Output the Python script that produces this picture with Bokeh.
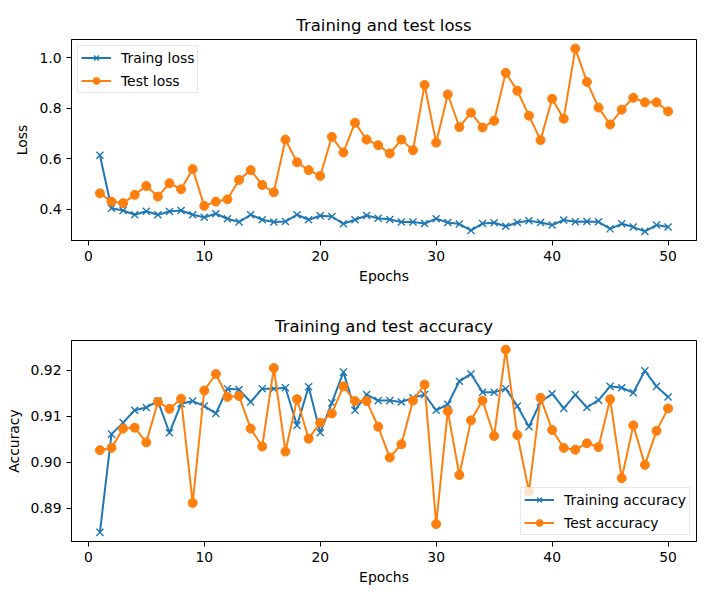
from bokeh.plotting import figure
from bokeh.layouts import column
from bokeh.models import Range1d, FixedTicker, PrintfTickFormatter
from bokeh.embed import file_html
from bokeh.resources import INLINE

epochs = list(range(1, 51))

train_loss = [0.614, 0.404, 0.395, 0.378, 0.392, 0.378, 0.391, 0.395, 0.378, 0.368,
              0.382, 0.362, 0.349, 0.378, 0.358, 0.349, 0.351, 0.378, 0.358, 0.374,
              0.371, 0.342, 0.358, 0.375, 0.364, 0.359, 0.349, 0.349, 0.343, 0.362,
              0.347, 0.341, 0.316, 0.343, 0.346, 0.332, 0.347, 0.354, 0.347, 0.337,
              0.357, 0.350, 0.351, 0.350, 0.322, 0.342, 0.329, 0.312, 0.337, 0.329]

test_loss = [0.463, 0.430, 0.424, 0.457, 0.492, 0.450, 0.503, 0.479, 0.559, 0.413,
             0.430, 0.439, 0.516, 0.555, 0.496, 0.467, 0.676, 0.586, 0.555, 0.532,
             0.687, 0.625, 0.743, 0.676, 0.654, 0.621, 0.676, 0.634, 0.893, 0.664,
             0.855, 0.726, 0.783, 0.724, 0.751, 0.941, 0.870, 0.771, 0.674, 0.838,
             0.759, 1.037, 0.905, 0.803, 0.736, 0.795, 0.842, 0.824, 0.824, 0.788]

train_acc = [0.8847, 0.9061, 0.9086, 0.9113, 0.9119, 0.9133, 0.9064, 0.9127, 0.9133, 0.9122,
             0.9106, 0.9160, 0.9158, 0.9131, 0.9160, 0.9160, 0.9162, 0.9080, 0.9164, 0.9064,
             0.9129, 0.9196, 0.9113, 0.9147, 0.9134, 0.9134, 0.9131, 0.9140, 0.9147, 0.9113,
             0.9126, 0.9176, 0.9192, 0.9152, 0.9152, 0.9160, 0.9122, 0.9077, 0.9131, 0.9149,
             0.9117, 0.9147, 0.9119, 0.9135, 0.9165, 0.9162, 0.9151, 0.9199, 0.9165, 0.9142]

test_acc = [0.9026, 0.9031, 0.9073, 0.9075, 0.9043, 0.9131, 0.9116, 0.9138, 0.8911, 0.9156,
            0.9192, 0.9142, 0.9144, 0.9073, 0.9034, 0.9205, 0.9023, 0.9137, 0.9051, 0.9086,
            0.9106, 0.9165, 0.9133, 0.9133, 0.9077, 0.9010, 0.9039, 0.9134, 0.9169, 0.8865,
            0.9111, 0.8972, 0.9091, 0.9134, 0.9057, 0.9245, 0.9059, 0.8936, 0.9140, 0.9070,
            0.9031, 0.9027, 0.9041, 0.9033, 0.9137, 0.8965, 0.9080, 0.8994, 0.9068, 0.9117]

x_ticks = [0, 10, 20, 30, 40, 50]
loss_ticks = [0.4, 0.6, 0.8, 1.0]
acc_ticks = [0.89, 0.90, 0.91, 0.92]

BLUE = "#1f77b4"
ORANGE = "#ff7f0e"
FONT = "DejaVu Sans"
FS = "13.9px"


def padded(vals, frac=0.05):
    lo, hi = min(vals), max(vals)
    m = (hi - lo) * frac
    return lo - m, hi + m


def make_fig(title, ylabel, ya, yb, yticks, yfmt, la, lb, legend_loc, height, top, bottom):
    x0, x1 = padded(epochs)
    y0, y1 = padded(ya + yb)
    p = figure(width=710, height=height, output_backend="svg", toolbar_location=None,
               x_range=Range1d(x0, x1), y_range=Range1d(y0, y1),
               min_border_left=71, min_border_right=14, min_border_top=top,
               min_border_bottom=bottom)
    p.title.text = title
    p.title.align = "center"
    p.title.text_font = FONT
    p.title.text_font_size = "16.5px"
    p.title.text_font_style = "normal"
    p.title.text_color = "black"
    p.grid.visible = False
    p.outline_line_color = "black"
    p.outline_line_width = 1
    p.outline_line_alpha = 1
    p.background_fill_color = "white"
    p.border_fill_color = "white"

    for ax in (p.xaxis[0], p.yaxis[0]):
        ax.axis_label_text_font = FONT
        ax.axis_label_text_font_size = FS
        ax.axis_label_text_font_style = "normal"
        ax.axis_label_text_color = "black"
        ax.major_label_text_font = FONT
        ax.major_label_text_font_size = FS
        ax.major_label_text_color = "black"
        ax.minor_tick_line_color = None
        ax.major_tick_out = 5
        ax.major_tick_in = 0
        ax.major_tick_line_color = "black"
        ax.axis_line_color = "black"

    p.xaxis.axis_label = "Epochs"
    p.yaxis.axis_label = ylabel
    p.xaxis.ticker = FixedTicker(ticks=x_ticks)
    p.xaxis.formatter = PrintfTickFormatter(format="%d")
    p.yaxis.ticker = FixedTicker(ticks=yticks)
    p.yaxis.formatter = PrintfTickFormatter(format=yfmt)
    p.xaxis.axis_label_standoff = 4
    p.yaxis.axis_label_standoff = 6

    p.line(epochs, ya, color=BLUE, line_width=2, legend_label=la)
    p.scatter(epochs, ya, marker="x", size=10, line_color=BLUE, line_width=1.4, legend_label=la)
    p.line(epochs, yb, color=ORANGE, line_width=2, legend_label=lb)
    p.scatter(epochs, yb, marker="circle", size=9, fill_color=ORANGE, line_color=ORANGE,
              line_width=1, legend_label=lb)

    lg = p.legend[0]
    lg.location = legend_loc
    lg.label_text_font = FONT
    lg.label_text_font_size = FS
    lg.label_text_color = "black"
    lg.border_line_color = "#d0d0d0"
    lg.border_line_width = 1
    lg.background_fill_alpha = 0.8
    lg.margin = 6
    lg.padding = 3
    lg.spacing = 6
    lg.glyph_width = 30
    lg.glyph_height = 17
    lg.label_standoff = 10
    lg.label_height = 17
    return p


p1 = make_fig("Training and test loss", "Loss", train_loss, test_loss, loss_ticks, "%.1f",
              "Traing loss", "Test loss", "top_left", 308, 39, 68)
p2 = make_fig("Training and test accuracy", "Accuracy", train_acc, test_acc, acc_ticks, "%.2f",
              "Training accuracy", "Test accuracy", "bottom_right", 280, 32, 47)

layout = column(p1, p2, spacing=0)

with open("out.html", "w") as f:
    f.write(file_html(layout, INLINE))
